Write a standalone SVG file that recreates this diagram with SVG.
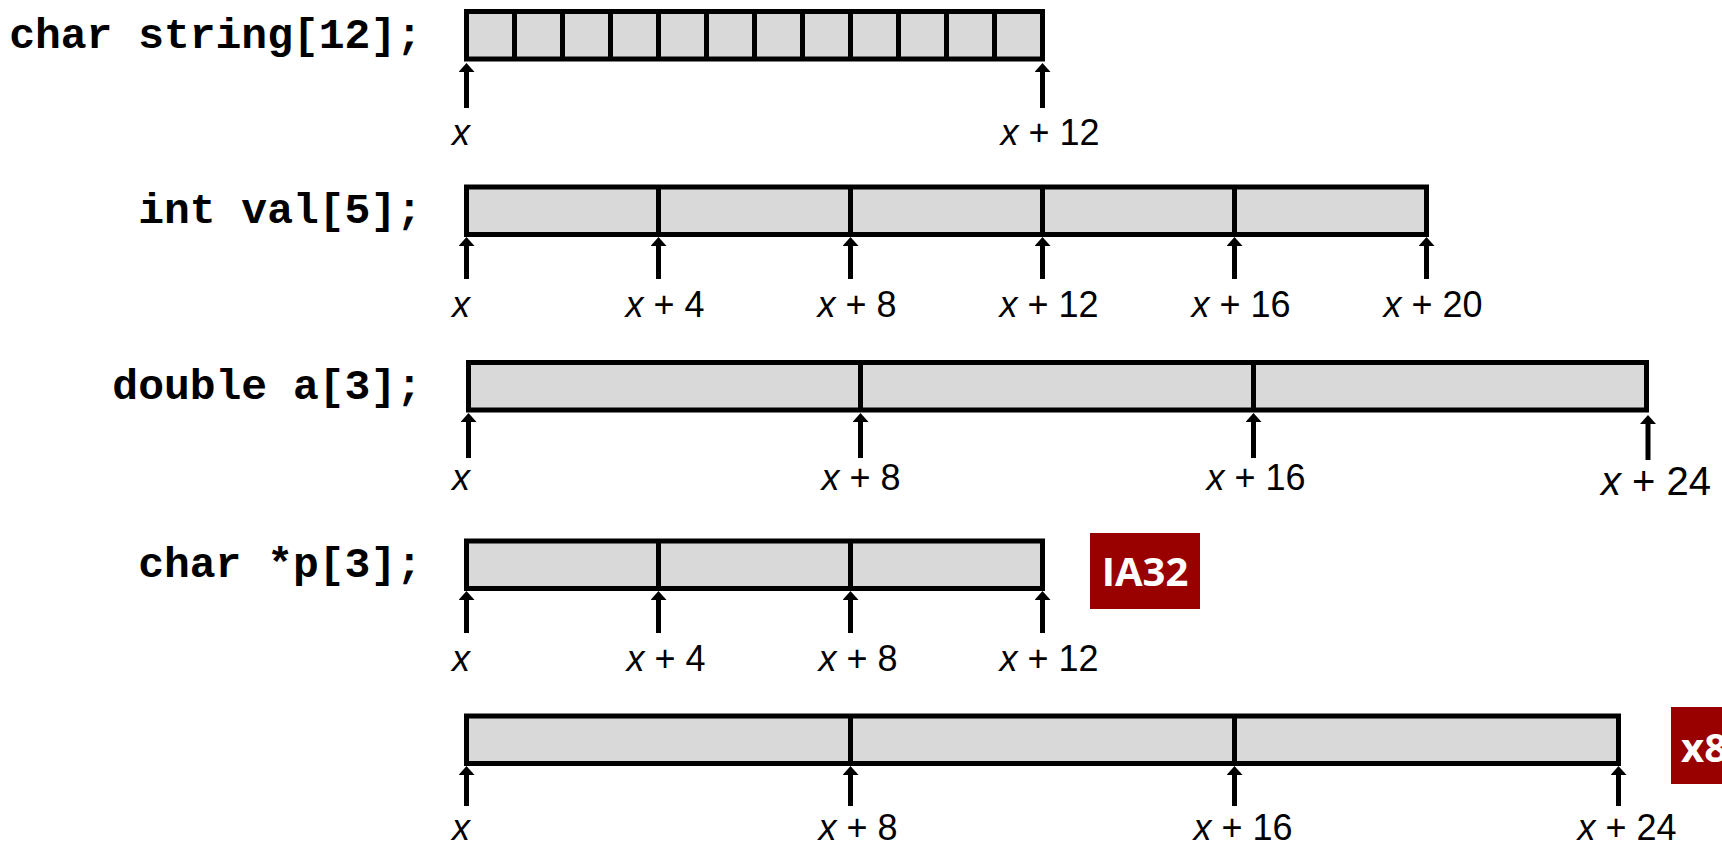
<svg xmlns="http://www.w3.org/2000/svg" width="1722" height="849" viewBox="0 0 1722 849">
<style>
.cell{fill:#d9d9d9;stroke:#000;stroke-width:5}
.div{stroke:#000;stroke-width:5}
.decl{font-family:"Liberation Mono","Courier New",monospace;font-weight:bold;font-size:43px;fill:#000;text-anchor:end}
.lbl{font-family:"Liberation Sans",Arial,sans-serif;font-size:36px;fill:#000;text-anchor:middle}
.lbl tspan{font-style:italic}
.arr{stroke:#000;stroke-width:5;marker-end:url(#head)}
.tag{fill:#990000}
.tagt{font-family:"Open Sans","Liberation Sans",sans-serif;font-weight:bold;font-size:40px;fill:#fff}
</style>
<defs>
<marker id="head" viewBox="0 0 9 16" refX="1" refY="8" markerWidth="9" markerHeight="16" markerUnits="userSpaceOnUse" orient="auto">
<path d="M0,0 L9,8 L0,16 z" fill="#000"/>
</marker>
</defs>
<rect width="1722" height="849" fill="#fff"/>

<g id="row-string">
<text class="decl" x="422" y="48">char string[12];</text>
<rect class="cell" x="466.5" y="11.5" width="576" height="47.5"/>
<path class="div" d="M514.5,11.5V59M562.5,11.5V59M610.5,11.5V59M658.5,11.5V59M706.5,11.5V59M754.5,11.5V59M802.5,11.5V59M850.5,11.5V59M898.5,11.5V59M946.5,11.5V59M994.5,11.5V59"/>
<text class="lbl" x="461" y="145"><tspan>x</tspan></text>
<text class="lbl" x="1050" y="145"><tspan>x</tspan> + 12</text>
</g>

<g id="row-val">
<text class="decl" x="422" y="223">int val[5];</text>
<rect class="cell" x="466.5" y="187" width="960" height="47.5"/>
<path class="div" d="M658.5,187V234.5M850.5,187V234.5M1042.5,187V234.5M1234.5,187V234.5"/>
<text class="lbl" x="461" y="317"><tspan>x</tspan></text>
<text class="lbl" x="665" y="317"><tspan>x</tspan> + 4</text>
<text class="lbl" x="857" y="317"><tspan>x</tspan> + 8</text>
<text class="lbl" x="1049" y="317"><tspan>x</tspan> + 12</text>
<text class="lbl" x="1241" y="317"><tspan>x</tspan> + 16</text>
<text class="lbl" x="1433" y="317"><tspan>x</tspan> + 20</text>
</g>

<g id="row-double">
<text class="decl" x="422" y="399">double a[3];</text>
<rect class="cell" x="468.5" y="362.5" width="1178" height="47.5"/>
<path class="div" d="M860.5,362.5V410M1253.5,362.5V410"/>
<text class="lbl" x="461" y="490"><tspan>x</tspan></text>
<text class="lbl" x="861" y="490"><tspan>x</tspan> + 8</text>
<text class="lbl" x="1256" y="490"><tspan>x</tspan> + 16</text>
<text class="lbl" x="1656" y="495" style="font-size:40px"><tspan>x</tspan> + 24</text>
</g>

<g id="row-p-ia32">
<text class="decl" x="422" y="577">char *p[3];</text>
<rect class="cell" x="466.5" y="541" width="576" height="47.5"/>
<path class="div" d="M658.5,541V588.5M850.5,541V588.5"/>
<text class="lbl" x="461" y="671"><tspan>x</tspan></text>
<text class="lbl" x="666" y="671"><tspan>x</tspan> + 4</text>
<text class="lbl" x="858" y="671"><tspan>x</tspan> + 8</text>
<text class="lbl" x="1049" y="671"><tspan>x</tspan> + 12</text>
</g>

<g id="tag-ia32">
<rect class="tag" x="1090" y="533" width="110" height="76"/>
<text class="tagt" x="1145" y="586" text-anchor="middle">IA32</text>
</g>

<g id="row-p-x86">
<rect class="cell" x="466.5" y="716" width="1152" height="47.5"/>
<path class="div" d="M850.5,716V763.5M1234.5,716V763.5"/>
<text class="lbl" x="461" y="840"><tspan>x</tspan></text>
<text class="lbl" x="858" y="840"><tspan>x</tspan> + 8</text>
<text class="lbl" x="1243" y="840"><tspan>x</tspan> + 16</text>
<text class="lbl" x="1627" y="840"><tspan>x</tspan> + 24</text>
</g>

<g id="tag-x86">
<rect class="tag" x="1671" y="707" width="60" height="77"/>
<text class="tagt" x="1681" y="762">x8</text>
</g>

<g id="connectors">
<line class="arr" x1="466.5" y1="108" x2="466.5" y2="71"/>
<line class="arr" x1="1042.5" y1="108" x2="1042.5" y2="71"/>

<line class="arr" x1="466.5" y1="279" x2="466.5" y2="245"/>
<line class="arr" x1="658.5" y1="279" x2="658.5" y2="245"/>
<line class="arr" x1="850.5" y1="279" x2="850.5" y2="245"/>
<line class="arr" x1="1042.5" y1="279" x2="1042.5" y2="245"/>
<line class="arr" x1="1234.5" y1="279" x2="1234.5" y2="245"/>
<line class="arr" x1="1426.5" y1="279" x2="1426.5" y2="245"/>

<line class="arr" x1="468.5" y1="458" x2="468.5" y2="421"/>
<line class="arr" x1="860.5" y1="458" x2="860.5" y2="421"/>
<line class="arr" x1="1253.5" y1="458" x2="1253.5" y2="421"/>
<line class="arr" x1="1648" y1="460" x2="1648" y2="423"/>

<line class="arr" x1="466.5" y1="633" x2="466.5" y2="599"/>
<line class="arr" x1="658.5" y1="633" x2="658.5" y2="599"/>
<line class="arr" x1="850.5" y1="633" x2="850.5" y2="599"/>
<line class="arr" x1="1042.5" y1="633" x2="1042.5" y2="599"/>

<line class="arr" x1="466.5" y1="806" x2="466.5" y2="774"/>
<line class="arr" x1="850.5" y1="806" x2="850.5" y2="774"/>
<line class="arr" x1="1234.5" y1="806" x2="1234.5" y2="774"/>
<line class="arr" x1="1618.5" y1="806" x2="1618.5" y2="774"/>
</g>
</svg>
